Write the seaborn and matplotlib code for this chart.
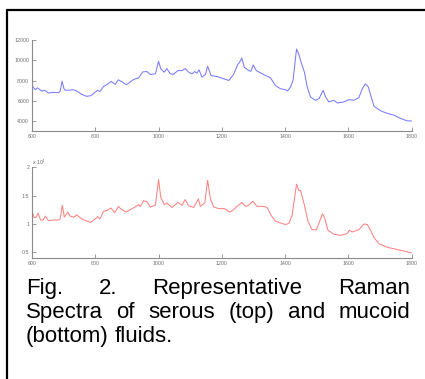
"""Raman spectra of serous (top) and mucoid (bottom) fluids."""

import matplotlib
matplotlib.use("Agg")
import matplotlib.pyplot as plt
from matplotlib.lines import Line2D
import pandas as pd
import seaborn as sns

# serous fluid spectrum (top)
serous_wn = [600, 610, 617, 630, 641, 652, 668, 683, 689, 695, 702, 710, 731, 741,
             757, 773, 786, 800, 807, 815, 826, 836, 850, 863, 873, 884, 898, 910,
             921, 937, 950, 963, 974, 990, 1000, 1007, 1018, 1026, 1037, 1047, 1061,
             1074, 1084, 1095, 1106, 1114, 1121, 1128, 1137, 1148, 1155, 1166, 1185,
             1206, 1222, 1237, 1250, 1256, 1263, 1271, 1285, 1292, 1299, 1309, 1332,
             1354, 1369, 1385, 1401, 1408, 1417, 1425, 1436, 1443, 1449, 1454, 1461,
             1470, 1480, 1496, 1507, 1520, 1528, 1538, 1554, 1565, 1586, 1602, 1617,
             1633, 1644, 1654, 1663, 1672, 1681, 1702, 1723, 1744, 1765, 1786, 1800]
serous_int = [7520, 7100, 7290, 6970, 7030, 6770, 6840, 6800, 6950, 7950, 7100, 7030,
              7100, 6980, 6640, 6440, 6510, 6870, 7030, 6930, 7420, 7590, 7920, 7620,
              8080, 7880, 7590, 7850, 8110, 8270, 8860, 8900, 8600, 8670, 9910, 9160,
              8830, 9190, 8670, 8620, 8990, 8990, 9190, 8830, 8670, 8900, 8740, 9060,
              8340, 8600, 9420, 8500, 8400, 8180, 8010, 8600, 9580, 9810, 10240, 9320,
              8990, 8920, 9550, 8990, 8600, 8270, 7520, 7200, 7100, 6970, 7360, 8010,
              11120, 10630, 9970, 9480, 8830, 7360, 6380, 6050, 6210, 7030, 6380, 5890,
              6050, 5790, 5890, 6120, 6050, 6310, 7200, 7680, 7360, 6380, 5460, 5010,
              4750, 4580, 4250, 4020, 4000]

# mucoid fluid spectrum (bottom), in units of 1e4
mucoid_wn = [600, 606, 612, 619, 627, 635, 642, 652, 668, 683, 689, 696, 702, 713,
             720, 733, 741, 757, 773, 786, 800, 807, 815, 826, 838, 849, 862, 873, 884,
             898, 910, 926, 937, 942, 953, 963, 974, 990, 1000, 1007, 1018, 1026, 1042,
             1061, 1074, 1084, 1095, 1111, 1126, 1132, 1146, 1155, 1164, 1174, 1190,
             1208, 1225, 1237, 1248, 1263, 1275, 1285, 1298, 1311, 1332, 1343, 1356,
             1369, 1385, 1401, 1412, 1422, 1436, 1443, 1449, 1454, 1461, 1472, 1485,
             1499, 1510, 1518, 1525, 1535, 1554, 1575, 1596, 1603, 1612, 1633, 1649,
             1660, 1670, 1681, 1697, 1723, 1755, 1786, 1800]
mucoid_int = [1.24, 1.12, 1.11, 1.19, 1.07, 1.07, 1.14, 1.06, 1.07, 1.07, 1.09, 1.33,
              1.12, 1.21, 1.14, 1.12, 1.16, 1.09, 1.05, 1.03, 1.09, 1.13, 1.09, 1.22,
              1.24, 1.28, 1.20, 1.31, 1.25, 1.21, 1.25, 1.30, 1.34, 1.31, 1.41, 1.39,
              1.30, 1.33, 1.78, 1.47, 1.34, 1.37, 1.29, 1.38, 1.33, 1.43, 1.32, 1.29,
              1.44, 1.31, 1.37, 1.77, 1.44, 1.30, 1.27, 1.27, 1.21, 1.25, 1.31, 1.38,
              1.31, 1.33, 1.40, 1.31, 1.31, 1.29, 1.15, 1.05, 1.02, 0.99, 1.01, 1.15,
              1.70, 1.59, 1.59, 1.48, 1.33, 1.05, 0.90, 0.90, 1.06, 1.18, 1.11, 0.89,
              0.82, 0.80, 0.83, 0.89, 0.86, 0.90, 1.00, 0.99, 0.89, 0.76, 0.65, 0.59,
              0.55, 0.51, 0.49]

x_ticks = [600, 800, 1000, 1200, 1400, 1600, 1800]
serous_yticks = [4000, 6000, 8000, 10000, 12000]
mucoid_yticks = [0.5, 1, 1.5, 2]
mucoid_ylabels = ["0.5", "1", "1.5", "2"]

caption = [
    "Fig. 2. Representative Raman",
    "Spectra of serous (top) and mucoid",
    "(bottom) fluids.",
]

sns.set_style("white")
plt.rcParams["font.family"] = ["Liberation Sans", "DejaVu Sans"]

AXIS_GRAY = "#8a8a8a"
LABEL_GRAY = "#6e6e6e"


def style_axes(ax):
    sns.despine(ax=ax)
    for side in ("left", "bottom"):
        ax.spines[side].set_color(AXIS_GRAY)
        ax.spines[side].set_linewidth(0.8)
    ax.tick_params(direction="in", length=3, width=0.6, color=AXIS_GRAY,
                   labelsize=3.8, labelcolor=LABEL_GRAY, pad=2,
                   left=True, bottom=True)
    ax.set_xlim(600, 1800)
    ax.set_xticks(x_ticks)
    ax.set_xlabel("")
    ax.set_ylabel("")
    ax.set_facecolor("white")


fig = plt.figure(figsize=(4.25, 3.79), dpi=100)

top_df = pd.DataFrame({"wn": serous_wn, "intensity": serous_int})
ax1 = fig.add_axes([0.0753, 0.654, 0.8934, 0.240])
sns.lineplot(data=top_df, x="wn", y="intensity", ax=ax1, color="#7a7aff",
             linewidth=0.75)
style_axes(ax1)
ax1.set_ylim(3000, 12000)
ax1.set_yticks(serous_yticks)
ax1.set_yticklabels([str(v) for v in serous_yticks])

bot_df = pd.DataFrame({"wn": mucoid_wn, "intensity": mucoid_int})
ax2 = fig.add_axes([0.0753, 0.319, 0.8934, 0.240])
sns.lineplot(data=bot_df, x="wn", y="intensity", ax=ax2, color="#ff8282",
             linewidth=0.75)
style_axes(ax2)
ax2.set_ylim(0.4, 2.0)
ax2.set_yticks(mucoid_yticks)
ax2.set_yticklabels(mucoid_ylabels)
ax2.text(0.0, 1.0, r"x 10$^4$", transform=ax2.transAxes, fontsize=3.8,
         color=LABEL_GRAY, ha="left", va="bottom")

# frame around the figure (left and top edges visible)
fig.add_artist(Line2D([0.0165, 0.0165], [0.0, 0.9736], color="black",
                      linewidth=1.6, transform=fig.transFigure))
fig.add_artist(Line2D([0.0165, 1.0], [0.9736, 0.9736], color="black",
                      linewidth=1.6, transform=fig.transFigure))

# justified caption; font size chosen so "Representative" is ~150 px wide
renderer = fig.canvas.get_renderer()
fig_w = fig.bbox.width
probe = fig.text(0, 0, "Representative", fontsize=10)
cap_size = 10 * 150 / probe.get_window_extent(renderer).width
probe.remove()

probe = fig.text(0, 0, "a b", fontsize=cap_size)
probe_a = fig.text(0, 0, "a", fontsize=cap_size)
space_w = (probe.get_window_extent(renderer).width
           - 2 * probe_a.get_window_extent(renderer).width) / fig_w
probe.remove()
probe_a.remove()

x_left, x_right = 0.0612, 0.9647
baselines = [1 - 294 / 379, 1 - 318 / 379, 1 - 342 / 379]
for i, (line, yb) in enumerate(zip(caption, baselines)):
    words = line.split()
    texts = [fig.text(0, yb, w, fontsize=cap_size, color="black",
                      va="baseline", ha="left") for w in words]
    widths = [t.get_window_extent(renderer).width / fig_w for t in texts]
    if i == len(caption) - 1:
        gap = space_w
    else:
        gap = (x_right - x_left - sum(widths)) / (len(words) - 1)
    x = x_left
    for t, w in zip(texts, widths):
        t.set_x(x)
        x += w + gap

fig.savefig("out.png", dpi=100)
